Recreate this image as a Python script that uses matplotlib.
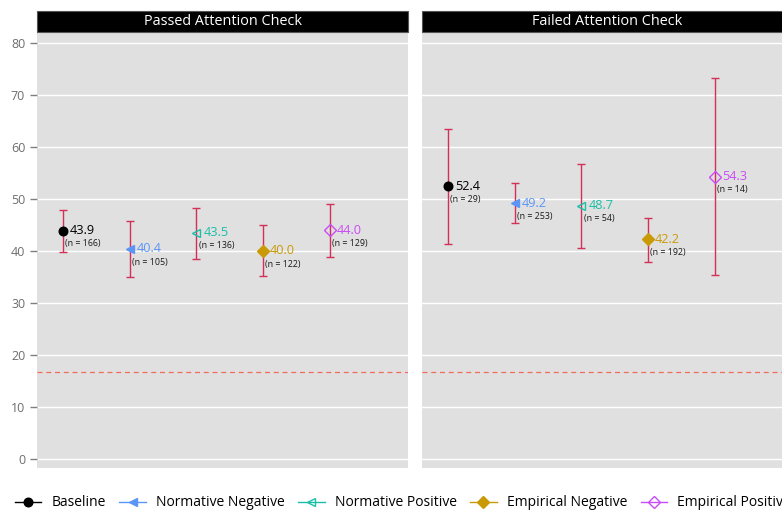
import matplotlib
matplotlib.use("Agg")
import matplotlib.pyplot as plt
from matplotlib.patches import Rectangle
from matplotlib.lines import Line2D

plt.rcParams['font.family'] = ['Open Sans', 'DejaVu Sans']

panels = ["Passed Attention Check", "Failed Attention Check"]
conditions = ["Baseline", "Normative Negative", "Normative Positive", "Empirical Negative", "Empirical Positive"]
means = {
    "Passed Attention Check": [43.9, 40.4, 43.5, 40.0, 44.0],
    "Failed Attention Check": [52.4, 49.2, 48.7, 42.2, 54.3],
}
ci_low = {
    "Passed Attention Check": [39.7, 34.9, 38.5, 35.1, 38.8],
    "Failed Attention Check": [41.3, 45.4, 40.5, 37.9, 35.3],
}
ci_high = {
    "Passed Attention Check": [47.9, 45.8, 48.3, 44.9, 49.0],
    "Failed Attention Check": [63.5, 53.0, 56.7, 46.4, 73.3],
}
ns = {
    "Passed Attention Check": [166, 105, 136, 122, 129],
    "Failed Attention Check": [29, 253, 54, 192, 14],
}
chance = 100 / 6
yticks = [0, 10, 20, 30, 40, 50, 60, 70, 80]

colors = ["#000000", "#5B95F5", "#1BBFA8", "#C99A06", "#C94BF5"]
markers = ["o", "<", "<", "D", "D"]
msizes = [6.2, 6.2, 6.2, 5.8, 5.8]
filled = [True, True, False, True, False]
err_color = "#D33058"
bg = "#E0E0E0"

W, H = 782, 512
fig = plt.figure(figsize=(W / 100, H / 100), dpi=100)

left1 = 37 / W
pw = 371 / W
left2 = 422 / W
bottom = 1 - 468 / H
ph = 436 / H
strip_h = 21 / 436

for pi, (panel, left) in enumerate(zip(panels, [left1, left2])):
    ax = fig.add_axes([left, bottom, pw, ph])
    ax.set_facecolor(bg)
    ax.set_xlim(0.61, 6.17)
    ax.set_ylim(-1.75, 82.1)
    for s in ax.spines.values():
        s.set_visible(False)
    ax.set_yticks(yticks)
    ax.grid(axis='y', color='white', linewidth=1.0)
    ax.set_axisbelow(True)
    ax.set_xticks([])
    if pi == 0:
        ax.tick_params(axis='y', colors='#7F7F7F', labelcolor='#6E6E6E', length=5, width=1, labelsize=9)
    else:
        ax.tick_params(axis='y', length=0, labelleft=False)
    ax.axhline(chance, color='#F26B5B', linestyle=(0, (4, 3)), linewidth=0.9)

    for i, cond in enumerate(conditions):
        x = i + 1
        m = means[panel][i]
        lo = ci_low[panel][i]
        hi = ci_high[panel][i]
        ax.errorbar([x], [m], yerr=[[m - lo], [hi - m]], fmt='none', ecolor=err_color,
                    elinewidth=1.0, capsize=3.2, capthick=1.0, zorder=3)
        c = colors[i]
        ax.plot([x], [m], marker=markers[i], markersize=msizes[i],
                markerfacecolor=c if filled[i] else 'none', markeredgecolor=c,
                markeredgewidth=1.0, linestyle='none', zorder=4)
        ax.annotate(f"{m:.1f}", (x, m), xytext=(5, 0), textcoords='offset points',
                    ha='left', va='center', fontsize=9.2, color=c)
        ax.annotate(f"(n = {ns[panel][i]})", (x, m), xytext=(1.5, -9.5), textcoords='offset points',
                    ha='left', va='center', fontsize=6.4, color='#1A1A1A')

    ax.add_patch(Rectangle((0, 1), 1, strip_h, transform=ax.transAxes, clip_on=False,
                           facecolor='black', edgecolor='#555555', linewidth=0.8))
    ax.text(0.5, 1 + strip_h / 2, panel, transform=ax.transAxes, ha='center', va='center',
            color='white', fontsize=10.4)

handles = []
for i, cond in enumerate(conditions):
    c = colors[i]
    handles.append(Line2D([0], [0], color=c, marker=markers[i], markersize=msizes[i],
                          markerfacecolor=c if filled[i] else 'none', markeredgecolor=c,
                          linewidth=1.0, label=cond))
fig.legend(handles=handles, loc='center left', bbox_to_anchor=(15 / W, 1 - 503 / H), ncol=5,
           frameon=False, fontsize=10, handlelength=1.9, handletextpad=0.75, columnspacing=0.95,
           borderaxespad=0, borderpad=0)

fig.savefig("out.png", dpi=100)
